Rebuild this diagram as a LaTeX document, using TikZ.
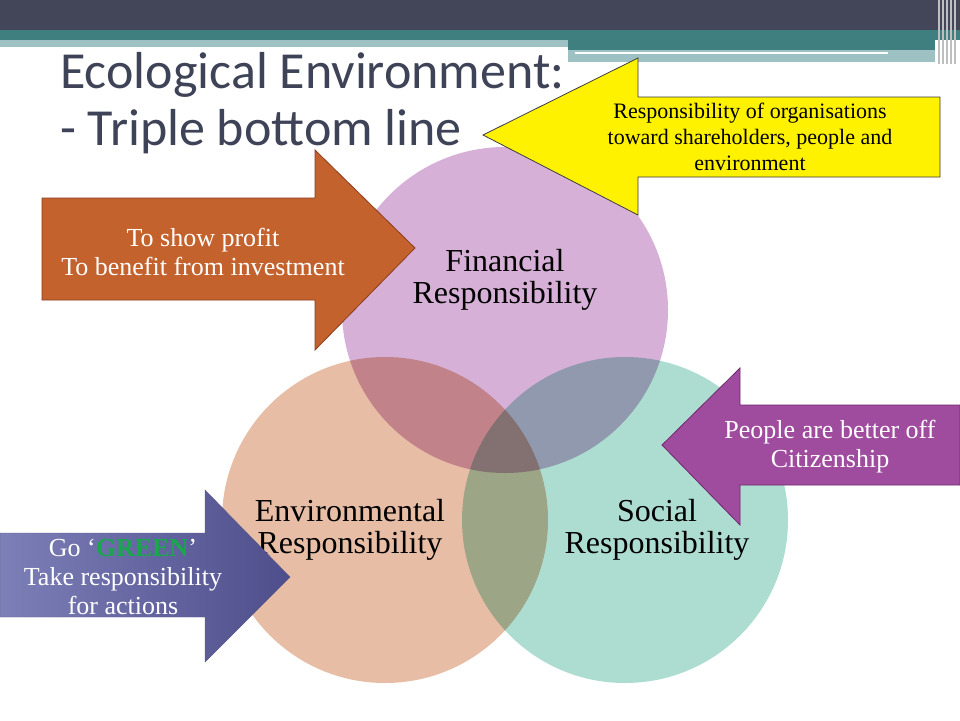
\documentclass[tikz,border=0pt]{standalone}
\usepackage{fontspec}
\setmainfont{Liberation Serif}
\newfontfamily\titlefont{Carlito}
\definecolor{hdark}{RGB}{67,69,88}
\definecolor{hteal}{RGB}{63,127,128}
\definecolor{hlight}{RGB}{158,193,196}
\definecolor{titlec}{RGB}{63,67,87}
\definecolor{cfin}{RGB}{207,163,208}
\definecolor{cenv}{RGB}{227,179,150}
\definecolor{csoc}{RGB}{159,216,200}
\definecolor{orD}{RGB}{140,60,30}
\definecolor{orF}{RGB}{196,98,45}
\definecolor{yeD}{RGB}{60,60,60}
\definecolor{puD}{RGB}{110,40,110}
\definecolor{puF}{RGB}{160,76,158}
\definecolor{blL}{RGB}{125,127,183}
\definecolor{blR}{RGB}{78,78,140}
\definecolor{blD}{RGB}{90,90,140}
\definecolor{grn}{RGB}{26,166,77}
\begin{document}
\begin{tikzpicture}[x=1pt,y=-1pt,
  circ/.style={fill opacity=0.85,draw=none},
  arr/.style={draw=#1,line width=0.8pt},
  lbl/.style={align=center,font=\fontsize{26}{29}\selectfont},
  clbl/.style={align=center,font=\fontsize{32}{32}\selectfont}]
\useasboundingbox (0,0) rectangle (960,720);
\fill[white] (0,0) rectangle (960,720);
% header
\fill[hdark] (0,0) rectangle (960,30);
\fill[hteal] (0,30) rectangle (960,40);
\fill[hlight] (0,40) rectangle (568,47);
\fill[hteal] (568,40) rectangle (935,50);
\fill[hlight] (568,50) rectangle (935,62);
\fill[white] (575,52) rectangle (888,54);
\fill[white] (775,62) rectangle (935,64);
\foreach \xx in {938,942,946,950,954} \fill[gray!50] (\xx,0) rectangle (\xx+1.5,64);
\node[anchor=base west,font=\titlefont\fontsize{52}{56}\selectfont,text=titlec,inner sep=0] (title) at (60,88) {Ecological Environment:};
\node[anchor=base west,font=\titlefont\fontsize{52}{56}\selectfont,text=titlec,inner sep=0] (title2) at (60,145) {- Triple bottom line};
% circles
\begin{scope}[blend group=multiply]
\fill[circ,fill=cfin] (505,310) circle (163);
\fill[circ,fill=cenv] (385,520) circle (163);
\fill[circ,fill=csoc] (625,520) circle (163);
\end{scope}
\node[clbl] (fin) at (505,280) {Financial\\Responsibility};
\node[clbl] (env) at (350,530) {Environmental\\Responsibility};
\node[clbl] (soc) at (657,530) {Social\\Responsibility};
% orange arrow
\filldraw[arr=orD,fill=orF]
  (42,198) -- (315,198) -- (315,150) -- (415,248) -- (315,350) -- (315,300) -- (42,300) -- cycle;
\node[lbl,text=white] (a1) at (203,252) {To show profit\\To benefit from investment};
% yellow arrow
\filldraw[arr=yeD,fill=yellow]
  (940,97) -- (638,97) -- (638,58) -- (483,135) -- (638,215) -- (638,177) -- (940,177) -- cycle;
\node[lbl,font=\fontsize{22}{26}\selectfont] (a2) at (750,137) {Responsibility of organisations\\ toward shareholders, people and\\environment\hspace{6.3em}};
% purple arrow
\filldraw[arr=puD,fill=puF]
  (960,405) -- (740,405) -- (740,368) -- (662,445) -- (740,525) -- (740,485) -- (960,485) -- cycle;
\node[lbl,text=white] (a3) at (830,447) {People are better off\\Citizenship};
% blue arrow
\shade[left color=blL,right color=blR,draw=blD]
  (0,533) -- (205,533) -- (205,490) -- (290,577) -- (205,662) -- (205,617) -- (0,617) -- cycle;
\node[lbl,text=white] (a4) at (123,577) {Go `\textcolor{grn}{\textbf{GREEN}}'\\Take responsibility\\for actions};
\end{tikzpicture}
\end{document}
